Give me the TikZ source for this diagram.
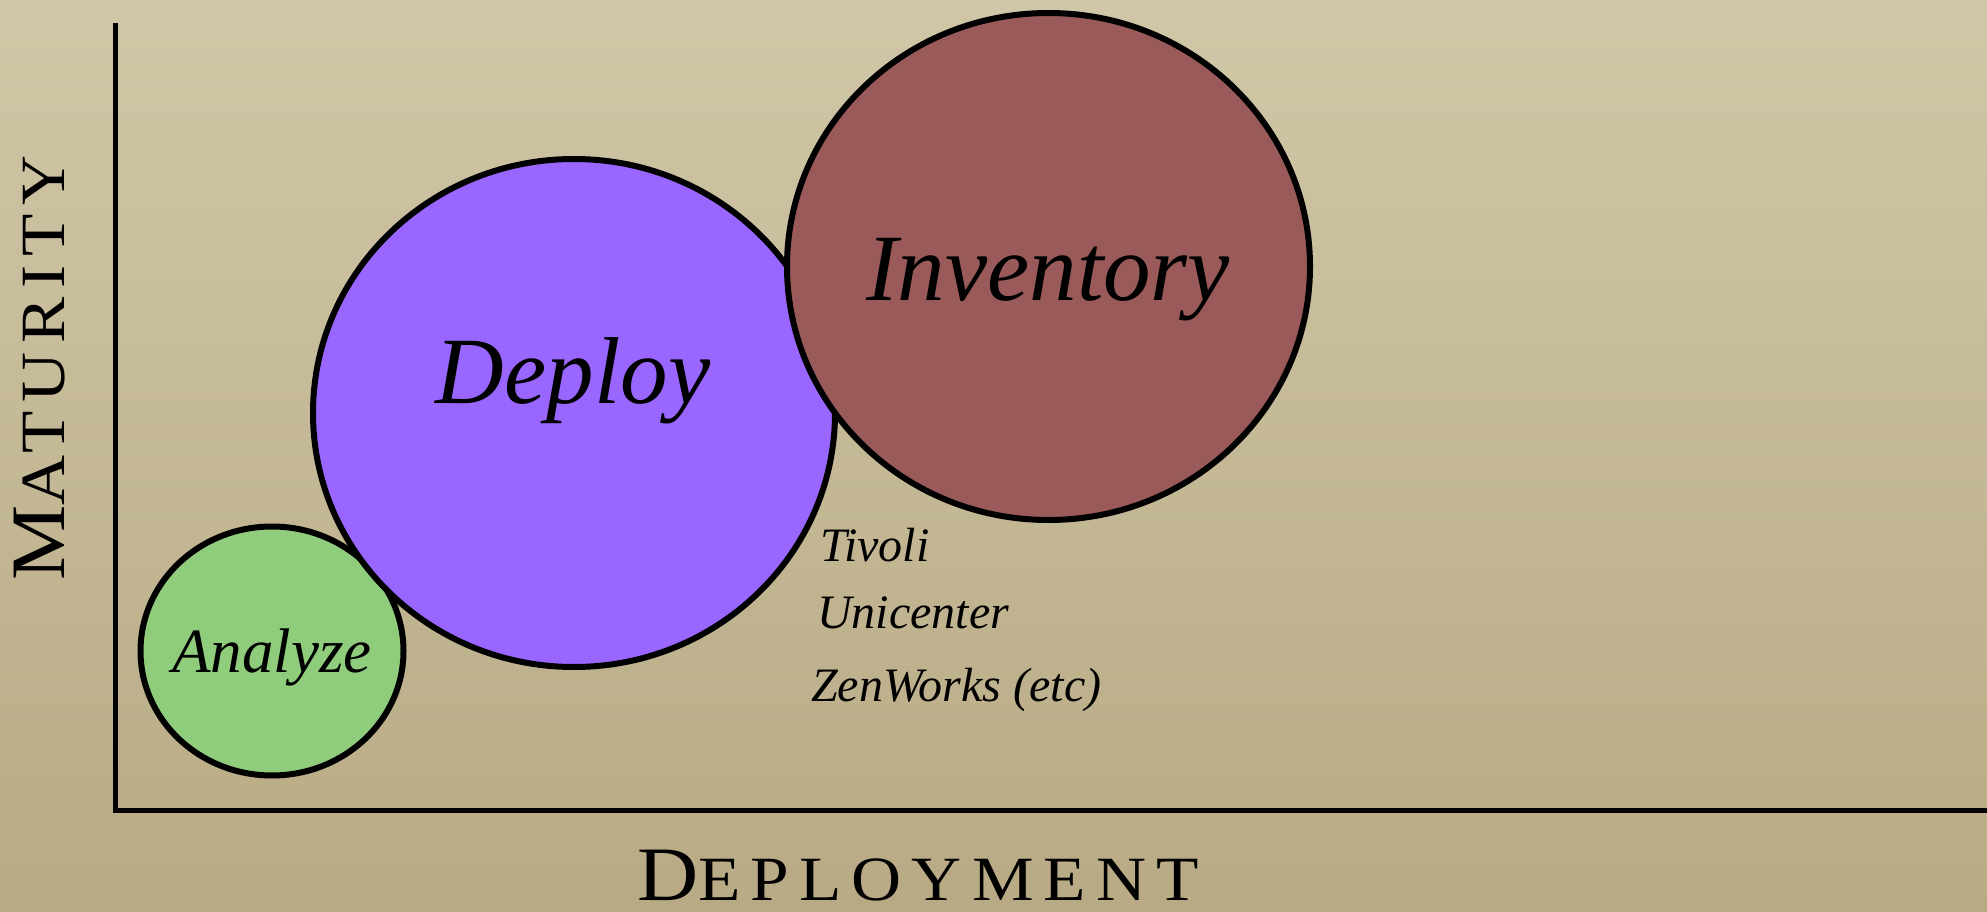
\documentclass[tikz,border=0pt]{standalone}
\usepackage{fontspec}
\setmainfont{Liberation Serif}
\newfontfamily\capsfont[FakeStretch=1.1]{Liberation Serif}
\usetikzlibrary{shapes.geometric}

\definecolor{paperTop}{HTML}{D0C7A8}
\definecolor{paperBottom}{HTML}{B8AA84}
\definecolor{analyzeFill}{HTML}{8FCD7D}
\definecolor{deployFill}{HTML}{9966FF}
\definecolor{inventoryFill}{HTML}{9A5A5A}

% small caps built from two sizes of the same face
\newcommand{\capfull}[1]{{\fontsize{77}{80}\selectfont #1}}
\newcommand{\capsmall}[1]{{\fontsize{63}{66}\selectfont #1}}

\tikzset{
  bubble/.style={ellipse, draw=black, line width=6pt, inner sep=0pt},
  bubblelabel/.style={inner sep=0pt, anchor=base, font=\itshape},
  toollabel/.style={inner sep=0pt, anchor=base west,
    font=\itshape\fontsize{48}{52}\selectfont},
  axislabel/.style={inner sep=0pt},
  axisline/.style={line width=5pt, black}
}

\begin{document}
\begin{tikzpicture}[x=1pt, y=-1pt]
  % paper background
  \shade[top color=paperTop, bottom color=paperBottom] (0,0) rectangle (1987,912);
  \useasboundingbox (0,0) rectangle (1987,912);

  % axes
  \coordinate (ytop) at (115,23);
  \coordinate (origin) at (115,810);
  \coordinate (xend) at (1987,810);
  \draw[axisline] (ytop) -- (origin) -- (xend);

  % bubbles
  \node[bubble, fill=analyzeFill, minimum width=263pt, minimum height=249pt]
    (analyze) at (272,651) {};
  \node[bubble, fill=deployFill, minimum width=522pt, minimum height=508pt]
    (deploy) at (574,413) {};
  \node[bubble, fill=inventoryFill, minimum width=523pt, minimum height=507pt]
    (inventory) at (1048.5,266.5) {};

  % bubble labels
  \node[bubblelabel, font=\itshape\fontsize{63}{66}\selectfont] (analyzeText) at (272,672) {Analyze};
  \node[bubblelabel, font=\itshape\fontsize{95}{100}\selectfont] (deployText) at (573,403) {Deploy};
  \node[bubblelabel, font=\itshape\fontsize{95}{100}\selectfont] (inventoryText) at (1048,300) {Inventory};

  % tools list
  \node[toollabel] (tivoli) at (820,561) {Tivoli};
  \node[toollabel] (unicenter) at (817,628) {Unicenter};
  \node[toollabel] (zenworks) at (811,701) {ZenWorks (etc)};

  % axis titles
  \node[axislabel, rotate=90, font=\capsfont\addfontfeature{LetterSpace=14}]
    (maturity) at (40,368) {\capfull{M}\capsmall{ATURITY}};
  \node[axislabel, anchor=base, font=\capsfont\addfontfeature{LetterSpace=16}]
    (deployment) at (918,900) {\capfull{D}\capsmall{EPLOYMENT}};
\end{tikzpicture}
\end{document}
